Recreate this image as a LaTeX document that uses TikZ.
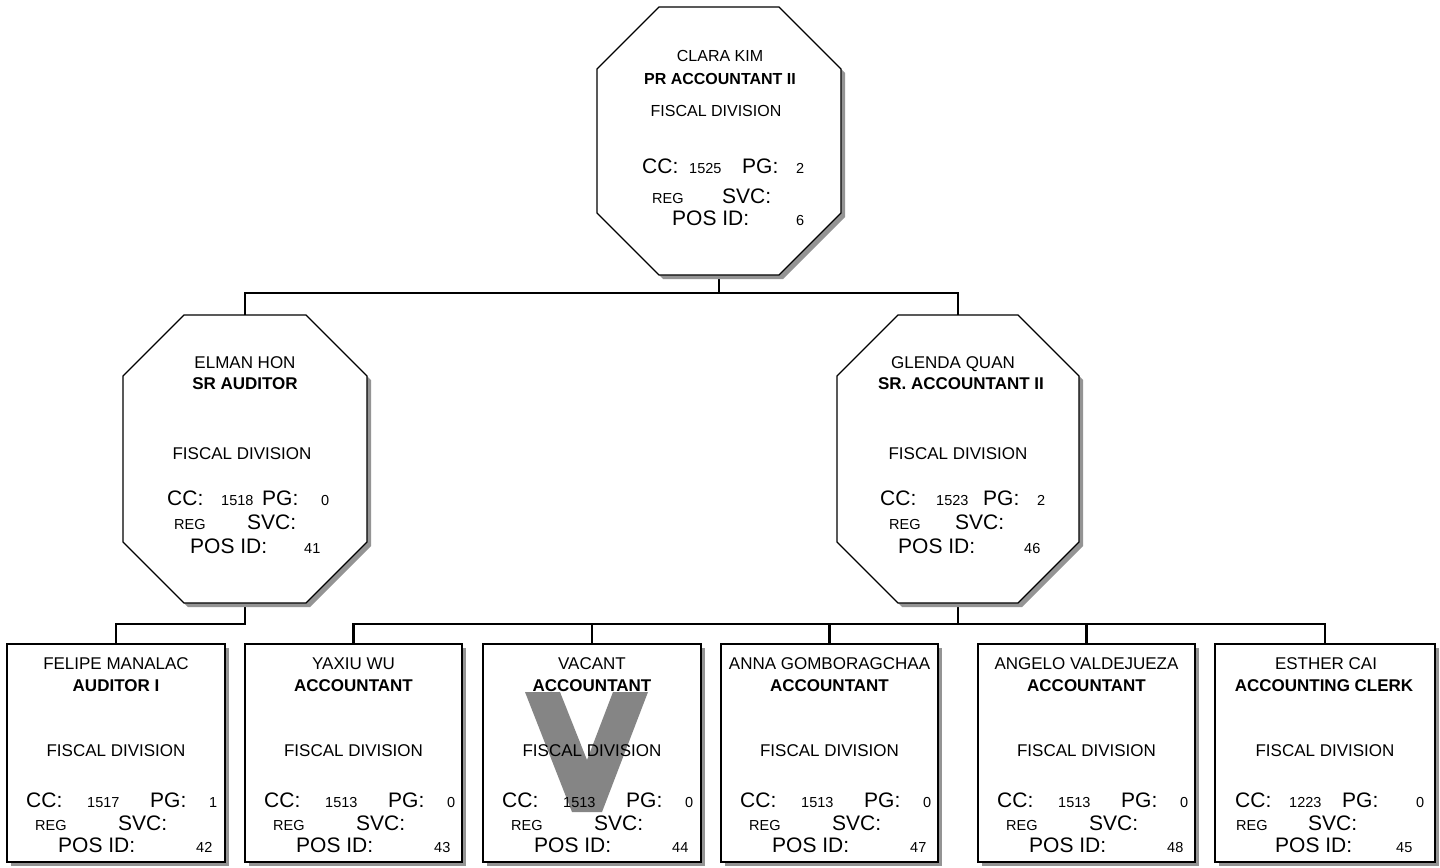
\documentclass[tikz,border=0pt]{standalone}
\usepackage{fontspec}
\setmainfont{Liberation Sans}
\tikzset{
  x=1bp, y=-1bp,
  conn/.style={draw=black, line width=2.2bp, line join=miter},
  frame/.style={draw=black, line width=1.1bp, fill=white},
  shade/.style={fill=black!42},
  hit/.style={inner sep=0pt, outer sep=0pt, draw=none},
  fM/.style={font=\fontsize{16bp}{19bp}\selectfont, inner sep=0pt, anchor=base},
  fMb/.style={font=\fontsize{16bp}{19bp}\selectfont\bfseries, inner sep=0pt, anchor=base},
  fA/.style={font=\fontsize{17bp}{20bp}\selectfont, inner sep=0pt, anchor=base},
  fAb/.style={font=\fontsize{17bp}{20bp}\selectfont\bfseries, inner sep=0pt, anchor=base},
  fB/.style={font=\fontsize{21bp}{24bp}\selectfont, inner sep=0pt, anchor=base west},
  fS/.style={font=\fontsize{14.5bp}{17bp}\selectfont, inner sep=0pt, anchor=base west},
  vmark/.style={fill=black!48}
}
% octagon: L T R B cut
\newcommand\octo[5]{%
  \fill[shade, shift={(4,4)}] ({#1+#5},#2) -- ({#3-#5},#2) -- (#3,{#2+#5}) -- (#3,{#4-#5}) -- ({#3-#5},#4) -- ({#1+#5},#4) -- (#1,{#4-#5}) -- (#1,{#2+#5}) -- cycle;
  \draw[frame] ({#1+#5},#2) -- ({#3-#5},#2) -- (#3,{#2+#5}) -- (#3,{#4-#5}) -- ({#3-#5},#4) -- ({#1+#5},#4) -- (#1,{#4-#5}) -- (#1,{#2+#5}) -- cycle;}
% rectangle box: L R
\newcommand\rbox[2]{%
  \fill[shade] ({#1+4},648) rectangle ({#2+4},866);
  \draw[frame] (#1,644) rectangle (#2,862);}
% box content: prefix L R name title cc pg pos
\newcommand\binfo[8]{%
  \node[fA] (#1-nm) at ({(#2+#3)/2},669) {#4};
  \node[fAb] (#1-ti) at ({(#2+#3)/2},691) {#5};
  \node[fA] (#1-dv) at ({(#2+#3)/2},756) {FISCAL DIVISION};
  \node[fB] (#1-cc) at ({#2+19},807) {CC:};
  \node[fS] (#1-ccv) at ({#2+80},807) {#6};
  \node[fB] (#1-pg) at ({#2+143},807) {PG:};
  \node[fS] (#1-pgv) at ({#2+202},807) {#7};
  \node[fS] (#1-rg) at ({#2+28},830) {REG};
  \node[fB] (#1-sv) at ({#2+111},830) {SVC:};
  \node[fB] (#1-po) at ({#2+51},852) {POS ID:};
  \node[fS] (#1-pov) at ({#2+189},852) {#8};}
\begin{document}
\begin{tikzpicture}
\useasboundingbox (0,0) rectangle (1440,867);
\fill[white] (0,0) rectangle (1440,867);

% anchor nodes
\node[hit, minimum width=244bp, minimum height=268bp] (clara) at (719,141) {};
\node[hit, minimum width=244bp, minimum height=288bp] (elman) at (245,459) {};
\node[hit, minimum width=242bp, minimum height=288bp] (glenda) at (958,459) {};
\node[hit, minimum width=218bp, minimum height=218bp] (felipe) at (116,753) {};
\node[hit, minimum width=217bp, minimum height=218bp] (yaxiu) at (353.5,753) {};
\node[hit, minimum width=218bp, minimum height=218bp] (vacant) at (592,753) {};
\node[hit, minimum width=217bp, minimum height=218bp] (anna) at (829.5,753) {};
\node[hit, minimum width=217bp, minimum height=218bp] (angelo) at (1086.5,753) {};
\node[hit, minimum width=220bp, minimum height=218bp] (esther) at (1325,753) {};

% connectors
\coordinate (b1) at (719,293);
\coordinate (b2) at (245,624);
\coordinate (b3) at (958,624);
\draw[conn] (clara.south) -- (b1);
\draw[conn] (elman.north) |- (b1) -| (glenda.north);
\draw[conn] (elman.south) -- (b2) -| (felipe.north);
\draw[conn] (glenda.south) -- (b3);
\draw[conn] (yaxiu.north) |- (b3) -| (esther.north);
\draw[conn] (vacant.north) -- (vacant.north |- b3);
\draw[conn] (anna.north) -- (anna.north |- b3);
\draw[conn] (angelo.north) -- (angelo.north |- b3);

% shapes
\octo{597}{7}{841}{275}{62}
\octo{123}{315}{367}{603}{61}
\octo{837}{315}{1079}{603}{61}
\rbox{7}{225}
\rbox{245}{462}
\rbox{483}{701}
\rbox{721}{938}
\rbox{978}{1195}
\rbox{1215}{1435}

% vacant mark
\fill[vmark] (525,692) -- (560,692) -- (587,760) -- (613,692) -- (648,692) -- (602,812) -- (572,812) -- cycle;

% Clara
\node[fM] (clara-nm) at (720,61) {CLARA KIM};
\node[fMb] (clara-ti) at (720,84) {PR ACCOUNTANT II};
\node[fM] (clara-dv) at (716,116) {FISCAL DIVISION};
\node[fB] (clara-cc) at (642,173) {CC:};
\node[fS] (clara-ccv) at (689,173) {1525};
\node[fB] (clara-pg) at (742,173) {PG:};
\node[fS] (clara-pgv) at (796,173) {2};
\node[fS] (clara-rg) at (652,203) {REG};
\node[fB] (clara-sv) at (722,203) {SVC:};
\node[fB] (clara-po) at (672,225) {POS ID:};
\node[fS] (clara-pov) at (796,225) {6};

% Elman
\node[fA] (elman-nm) at (245,368) {ELMAN HON};
\node[fAb] (elman-ti) at (245,389) {SR AUDITOR};
\node[fA] (elman-dv) at (242,459) {FISCAL DIVISION};
\node[fB] (elman-cc) at (167,505) {CC:};
\node[fS] (elman-ccv) at (221,505) {1518};
\node[fB] (elman-pg) at (262,505) {PG:};
\node[fS] (elman-pgv) at (321,505) {0};
\node[fS] (elman-rg) at (174,529) {REG};
\node[fB] (elman-sv) at (247,529) {SVC:};
\node[fB] (elman-po) at (190,553) {POS ID:};
\node[fS] (elman-pov) at (304,553) {41};

% Glenda
\node[fA] (glenda-nm) at (953,368) {GLENDA QUAN};
\node[fAb] (glenda-ti) at (961,389) {SR. ACCOUNTANT II};
\node[fA] (glenda-dv) at (958,459) {FISCAL DIVISION};
\node[fB] (glenda-cc) at (880,505) {CC:};
\node[fS] (glenda-ccv) at (936,505) {1523};
\node[fB] (glenda-pg) at (983,505) {PG:};
\node[fS] (glenda-pgv) at (1037,505) {2};
\node[fS] (glenda-rg) at (889,529) {REG};
\node[fB] (glenda-sv) at (955,529) {SVC:};
\node[fB] (glenda-po) at (898,553) {POS ID:};
\node[fS] (glenda-pov) at (1024,553) {46};

% bottom boxes
\binfo{felipe}{7}{225}{FELIPE MANALAC}{AUDITOR I}{1517}{1}{42}
\binfo{yaxiu}{245}{462}{YAXIU WU}{ACCOUNTANT}{1513}{0}{43}
\binfo{vacant}{483}{701}{VACANT}{ACCOUNTANT}{1513}{0}{44}
\binfo{anna}{721}{938}{ANNA GOMBORAGCHAA}{ACCOUNTANT}{1513}{0}{47}
\binfo{angelo}{978}{1195}{ANGELO VALDEJUEZA}{ACCOUNTANT}{1513}{0}{48}

% Esther
\node[fA] (esther-nm) at (1326,669) {ESTHER CAI};
\node[fAb] (esther-ti) at (1324,691) {ACCOUNTING CLERK};
\node[fA] (esther-dv) at (1325,756) {FISCAL DIVISION};
\node[fB] (esther-cc) at (1235,807) {CC:};
\node[fS] (esther-ccv) at (1289,807) {1223};
\node[fB] (esther-pg) at (1342,807) {PG:};
\node[fS] (esther-pgv) at (1416,807) {0};
\node[fS] (esther-rg) at (1236,830) {REG};
\node[fB] (esther-sv) at (1308,830) {SVC:};
\node[fB] (esther-po) at (1275,852) {POS ID:};
\node[fS] (esther-pov) at (1396,852) {45};
\end{tikzpicture}
\end{document}
